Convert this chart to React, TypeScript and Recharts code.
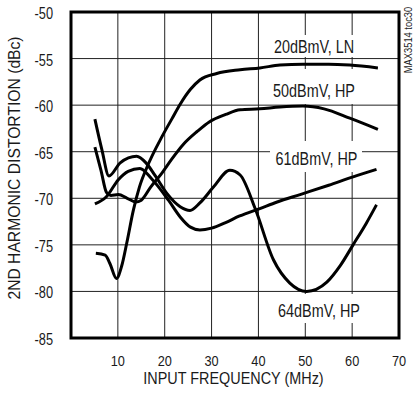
import React from "react";
import { LineChart, Line, XAxis, YAxis, CartesianGrid, ReferenceArea } from "recharts";

// Input frequency (MHz) and 2nd harmonic distortion (dBc) per curve
const ln20X = [5.3, 7.3, 8.3, 9.7, 10.8, 11.9, 13.3, 14.6, 16.1, 19.5, 21.5, 23.3, 25.5, 27.5, 31.1, 36.1, 40.3, 44.6, 49.5, 55, 59.5, 65.5];
const ln20Y = [-75.9, -76.1, -77.0, -78.6, -77.3, -74.8, -71.3, -68.8, -66.8, -63.3, -61.5, -59.9, -58.3, -57.3, -56.6, -56.2, -56.0, -55.7, -55.6, -55.6, -55.7, -56.0];

const hp50X = [5.1, 6.4, 7.6, 8.5, 10.1, 12, 13.8, 15, 17, 19.4, 21.5, 24, 27, 29.5, 33, 36.1, 40.3, 44.6, 49.5, 54, 59.5, 65.5];
const hp50Y = [-64.5, -67.0, -69.4, -69.7, -69.6, -70.0, -70.4, -70.2, -68.8, -67.3, -65.8, -64.2, -62.8, -61.8, -61.0, -60.5, -60.4, -60.2, -60.1, -60.4, -61.4, -62.6];

const hp61X = [5.1, 7.6, 10.1, 12.2, 14.7, 17.2, 20.8, 23.3, 25.5, 27.5, 30, 33, 36, 40.3, 44, 48.9, 55, 60.2, 65.2];
const hp61Y = [-70.6, -69.8, -68.0, -67.1, -66.8, -67.9, -70.2, -72.0, -73.1, -73.4, -73.2, -72.6, -71.9, -71.1, -70.4, -69.6, -68.6, -67.7, -66.9];

const hp64X = [5.1, 6.6, 8.1, 10.5, 14.0, 16, 18, 20.5, 23.3, 25.4, 27.5, 30.4, 33.9, 36.1, 39.3, 43.2, 46.7, 50.3, 54.6, 57.5, 60.2, 63, 65.2];
const hp64Y = [-61.5, -64.8, -67.6, -66.2, -65.5, -66.2, -67.6, -69.5, -70.9, -71.3, -70.5, -68.8, -67.0, -67.5, -71.1, -76.6, -79.1, -80.0, -79.0, -77.2, -75.0, -72.7, -70.7];

const xTicks = [10, 20, 30, 40, 50, 60, 70];
const yTicks = [-85, -80, -75, -70, -65, -60, -55, -50];

const curveLabels = ["20dBmV, LN", "50dBmV, HP", "61dBmV, HP", "64dBmV, HP"];
const xTitle = "INPUT FREQUENCY (MHz)";
const yTitle = "2ND HARMONIC DISTORTION (dBc)";
const sideNote = "MAX3514 toc30";

const toPoints = (xs: number[], ys: number[]) => xs.map((x, i) => ({ x, y: ys[i] }));

const FONT = "'Liberation Sans', Arial, sans-serif";

type NTProps = { x: number; y: number; size: number; sx: number; rot?: number; anchor?: string; children: React.ReactNode };
const NarrowText = ({ x, y, size, sx, rot = 0, anchor = "middle", children }: NTProps) => (
  <text
    transform={`translate(${x} ${y}) rotate(${rot}) scale(${sx} 1)`}
    x={0}
    y={0}
    textAnchor={anchor}
    fontFamily={FONT}
    fontSize={size}
    fill="#1a1a1a"
  >
    {children}
  </text>
);

const XTick = (props: any) => (
  <NarrowText x={props.x} y={366} size={15} sx={0.85}>
    {props.payload.value}
  </NarrowText>
);
const YTick = (props: any) => (
  <NarrowText x={53} y={props.y + 7} size={16} sx={0.8} anchor="end">
    {props.payload.value}
  </NarrowText>
);

const labelBoxes = [
  { cx: 314, cy: 46, x: 269, y: 35, w: 93, h: 22 },
  { cx: 314, cy: 90, x: 269, y: 69, w: 93, h: 35 },
  { cx: 316.5, cy: 158.5, x: 270, y: 141, w: 92, h: 31 },
  { cx: 319, cy: 310.5, x: 274, y: 294, w: 90, h: 29 },
];

export default function App() {
  const series = [
    toPoints(ln20X, ln20Y),
    toPoints(hp50X, hp50Y),
    toPoints(hp61X, hp61Y),
    toPoints(hp64X, hp64Y),
  ];
  return (
    <div style={{ position: "absolute", left: 0, top: 0, width: 413, height: 399, background: "#fff" }}>
      <LineChart width={413} height={399} margin={{ top: 12, right: 14, bottom: 0, left: 0 }}>
        <CartesianGrid stroke="#222" strokeWidth={1} />
        <XAxis
          type="number"
          dataKey="x"
          domain={[0, 70]}
          ticks={xTicks}
          height={61}
          axisLine={false}
          tickLine={false}
          tick={<XTick />}
          allowDataOverflow
        />
        <YAxis
          type="number"
          dataKey="y"
          domain={[-85, -50]}
          ticks={yTicks}
          width={71}
          axisLine={false}
          tickLine={false}
          tick={<YTick />}
          allowDataOverflow
        />
        <ReferenceArea x1={0} x2={70} y1={-85} y2={-50} fill="none" stroke="#000" strokeWidth={3} ifOverflow="visible" />
        {series.map((d, i) => (
          <Line
            key={i}
            data={d}
            dataKey="y"
            type="monotone"
            stroke="#000"
            strokeWidth={3}
            dot={false}
            activeDot={false}
            isAnimationActive={false}
          />
        ))}
      </LineChart>
      <svg width={413} height={399} style={{ position: "absolute", left: 0, top: 0, pointerEvents: "none" }}>
        {labelBoxes.map((b, i) => (
          <g key={i}>
            <rect x={b.x} y={b.y} width={b.w} height={b.h} fill="#fff" />
            <NarrowText x={b.cx} y={b.cy + 6.5} size={18} sx={0.8}>
              {curveLabels[i]}
            </NarrowText>
          </g>
        ))}
        <NarrowText x={233.5} y={384} size={16} sx={0.9}>
          {xTitle}
        </NarrowText>
        <NarrowText x={20} y={168} size={16} sx={0.98} rot={-90}>
          {yTitle}
        </NarrowText>
        <NarrowText x={412} y={40} size={11} sx={0.85} rot={-90}>
          {sideNote}
        </NarrowText>
      </svg>
    </div>
  );
}
